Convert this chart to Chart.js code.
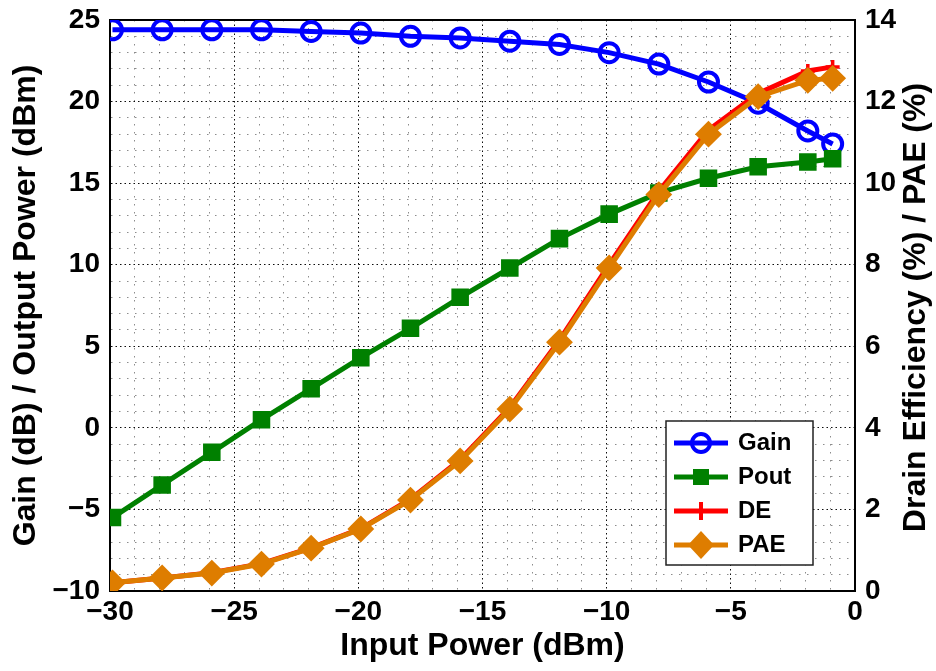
<!DOCTYPE html>
<html><head><meta charset="utf-8">
<script src="https://cdn.jsdelivr.net/npm/chart.js@4.4.1/dist/chart.umd.min.js"></script>
<style>html,body{margin:0;padding:0;background:#fff}#wrap{width:936px;height:671px;position:relative}</style>
</head><body><div id="wrap"><canvas id="c"></canvas></div>
<script>
// ---- data ----
const inputPower = [-29.9,-27.9,-25.9,-23.9,-21.9,-19.9,-17.9,-15.9,-13.9,-11.9,-9.9,-7.9,-5.9,-3.9,-1.9,-0.9];
const gainDb     = [24.4,24.4,24.4,24.4,24.3,24.2,24.0,23.9,23.7,23.5,23.0,22.3,21.2,19.9,18.2,17.4];
const poutDbm    = [-5.5,-3.5,-1.5,0.5,2.4,4.3,6.1,8.0,9.8,11.6,13.1,14.4,15.3,16.0,16.3,16.5];
const drainEff   = [0.2,0.32,0.45,0.67,1.06,1.53,2.25,3.22,4.5,6.15,8.0,9.8,11.3,12.2,12.75,12.85];
const paeVals    = [0.2,0.32,0.44,0.66,1.05,1.52,2.23,3.19,4.46,6.1,7.92,9.72,11.2,12.12,12.52,12.57];
const seriesNames = ['Gain','Pout','DE','PAE'];
const xRange = [-30, 0];
const yLeftRange = [-10, 25];
const yRightRange = [0, 14];
const xTitle = 'Input Power (dBm)';
const yLeftTitle = 'Gain (dB) / Output Power (dBm)';
const yRightTitle = 'Drain Efficiency (%) / PAE (%)';

const FONT = "'Liberation Sans', Arial, Helvetica, sans-serif";
const COLORS = {Gain:'#0000ff', Pout:'#008000', DE:'#ff0000', PAE:'#de7d00'};

function pts(ys){ return ys.map((y,i)=>({x: inputPower[i], y})); }
function minus(v){ return String(v).replace('-', '\u2212'); }

// legend icons (line + marker)
function icon(name){
  const c = document.createElement('canvas'); c.width = 54; c.height = 30;
  const g = c.getContext('2d'); const col = COLORS[name];
  g.strokeStyle = col; g.fillStyle = col; g.lineWidth = 5;
  g.beginPath(); g.moveTo(0,15); g.lineTo(54,15); g.stroke();
  if (name==='Gain'){ g.lineWidth=4; g.beginPath(); g.arc(27,15,9,0,Math.PI*2); g.stroke(); }
  if (name==='Pout'){ g.fillRect(19,7,16,16); }
  if (name==='DE'){ g.lineWidth=4; g.beginPath(); g.moveTo(27,6); g.lineTo(27,24); g.stroke(); }
  if (name==='PAE'){ g.beginPath(); g.moveTo(27,1); g.lineTo(40,15); g.lineTo(27,29); g.lineTo(14,15); g.closePath(); g.fill(); }
  return c;
}
const icons = {}; seriesNames.forEach(n=>icons[n]=icon(n));

function isMajor(ctx, step){ return ctx.tick && Math.abs(Math.round(ctx.tick.value)) % step === 0; }
const gridColor = (step)=> (ctx)=> isMajor(ctx,step) ? 'rgba(0,0,0,0.95)' : 'rgba(0,0,0,0.45)';
const gridDash = (step)=> (ctx)=> !ctx.tick ? [] : (isMajor(ctx,step) ? [1.5,3] : [1.5,6.5]);

const LEGEND_BOX = {dr: 42, db: 26, w: 147, h: 144};

const framePlugin = {
  id: 'framePlugin',
  afterInit(chart){
    chart.legend._layers = () => [{z: 1, draw: () => chart.legend.draw()}];
  },
  afterLayout(chart){
    const ca = chart.chartArea, lg = chart.legend;
    lg.right = ca.right - LEGEND_BOX.dr; lg.left = lg.right - LEGEND_BOX.w;
    lg.top = ca.bottom - LEGEND_BOX.db - LEGEND_BOX.h; lg.bottom = ca.bottom;
    lg.width = lg.right - lg.left; lg.height = lg.bottom - lg.top;
  },
  afterDatasetsDraw(chart){
    const ca = chart.chartArea, g = chart.ctx;
    const r = ca.right - LEGEND_BOX.dr, b = ca.bottom - LEGEND_BOX.db;
    g.save();
    g.fillStyle = '#fff'; g.fillRect(r - LEGEND_BOX.w, b - LEGEND_BOX.h, LEGEND_BOX.w, LEGEND_BOX.h);
    g.strokeStyle = '#222'; g.lineWidth = 1.5; g.strokeRect(r - LEGEND_BOX.w, b - LEGEND_BOX.h, LEGEND_BOX.w, LEGEND_BOX.h);
    g.restore();
  },
  afterDraw(chart){
    const ca = chart.chartArea, g = chart.ctx;
    g.save();
    g.translate(916, (ca.top + ca.bottom)/2 + 2);
    g.rotate(-Math.PI/2);
    g.font = 'bold 32px ' + FONT; g.fillStyle = '#000';
    g.textAlign = 'center'; g.textBaseline = 'middle';
    g.fillText(yRightTitle, 0, 0);
    g.restore();
  }
};

const ds = (name, data, axis, extra) => Object.assign({
  label: name, data: pts(data), yAxisID: axis,
  borderColor: COLORS[name], backgroundColor: COLORS[name],
  borderWidth: 5, pointBorderColor: COLORS[name], pointBackgroundColor: COLORS[name],
  tension: 0
}, extra);

function noPadV(s, w){ s.width = w; s.paddingTop = 0; s.paddingBottom = 0; }
function noPadH(s, h){ s.height = h; s.paddingLeft = 0; s.paddingRight = 0; }

new Chart(document.getElementById('c'), {
  type: 'line',
  data: { datasets: [
    ds('PAE', paeVals, 'y2', {pointStyle:'rectRot', pointRadius:12, pointBorderWidth:2}),
    ds('DE', drainEff, 'y2', {pointStyle:'cross', pointRadius:7, pointBorderWidth:3.5}),
    ds('Pout', poutDbm, 'y', {pointStyle:'rect', pointRadius:11, pointBorderWidth:2}),
    ds('Gain', gainDb, 'y', {pointStyle:'circle', pointRadius:9.5, pointBorderWidth:4, pointBackgroundColor:'rgba(0,0,0,0)'})
  ]},
  options: {
    responsive: true, maintainAspectRatio: false, animation: false,
    layout: {padding: 0},
    plugins: {
      tooltip: {enabled:false},
      legend: {
        position: 'chartArea', align: 'start',
        labels: {
          usePointStyle: true, pointStyleWidth: 50, boxHeight: 24, padding: 10,
          color: '#000', font: {family: FONT, size: 24, weight: 'bold'},
          generateLabels(chart){
            return seriesNames.map(n=>{
              const i = chart.data.datasets.findIndex(d=>d.label===n);
              return {text:n, datasetIndex:i, pointStyle:icons[n], fillStyle:COLORS[n], strokeStyle:COLORS[n], lineWidth:0, hidden:false, fontColor:'#000'};
            });
          }
        }
      }
    },
    scales: {
      x: {
        type:'linear', position:'bottom', min:xRange[0], max:xRange[1],
        afterFit(s){ noPadH(s, 80); },
        ticks: {stepSize:1, autoSkip:false, maxRotation:0, padding:4, color:'#000',
          font:{family:FONT, size:28, weight:'bold'},
          callback:(v)=> (Math.round(v)%5===0 ? minus(v) : '')},
        grid: {drawTicks:false, color:gridColor(5), lineWidth:1},
        border: {display:true, color:'#000', width:2, dash:gridDash(5)},
        title: {display:true, text:xTitle, color:'#000', font:{family:FONT, size:32, weight:'bold'}, padding:{top:0,bottom:6}}
      },
      x2: {
        type:'linear', position:'top', min:xRange[0], max:xRange[1],
        afterFit(s){ noPadH(s, 20); },
        ticks:{display:false}, grid:{drawOnChartArea:false, drawTicks:false},
        border:{display:true, color:'#000', width:2}
      },
      y: {
        type:'linear', position:'left', min:yLeftRange[0], max:yLeftRange[1],
        afterFit(s){ noPadV(s, 110); },
        ticks: {stepSize:1, autoSkip:false, padding:10, color:'#000',
          font:{family:FONT, size:28, weight:'bold'},
          callback:(v)=> (Math.round(v)%5===0 ? minus(v) : '')},
        grid: {drawTicks:false, color:gridColor(5), lineWidth:1},
        border: {display:true, color:'#000', width:2, dash:gridDash(5)},
        title: {display:true, text:yLeftTitle, color:'#000', font:{family:FONT, size:32, weight:'bold'}, padding:{top:7,bottom:0}}
      },
      y2: {
        type:'linear', position:'right', min:yRightRange[0], max:yRightRange[1],
        afterFit(s){ noPadV(s, 81); },
        ticks: {stepSize:2, autoSkip:false, padding:10, color:'#000',
          font:{family:FONT, size:28, weight:'bold'}},
        grid: {drawOnChartArea:false, drawTicks:false},
        border: {display:true, color:'#000', width:2}
      }
    }
  },
  plugins: [framePlugin]
});
</script></body></html>
